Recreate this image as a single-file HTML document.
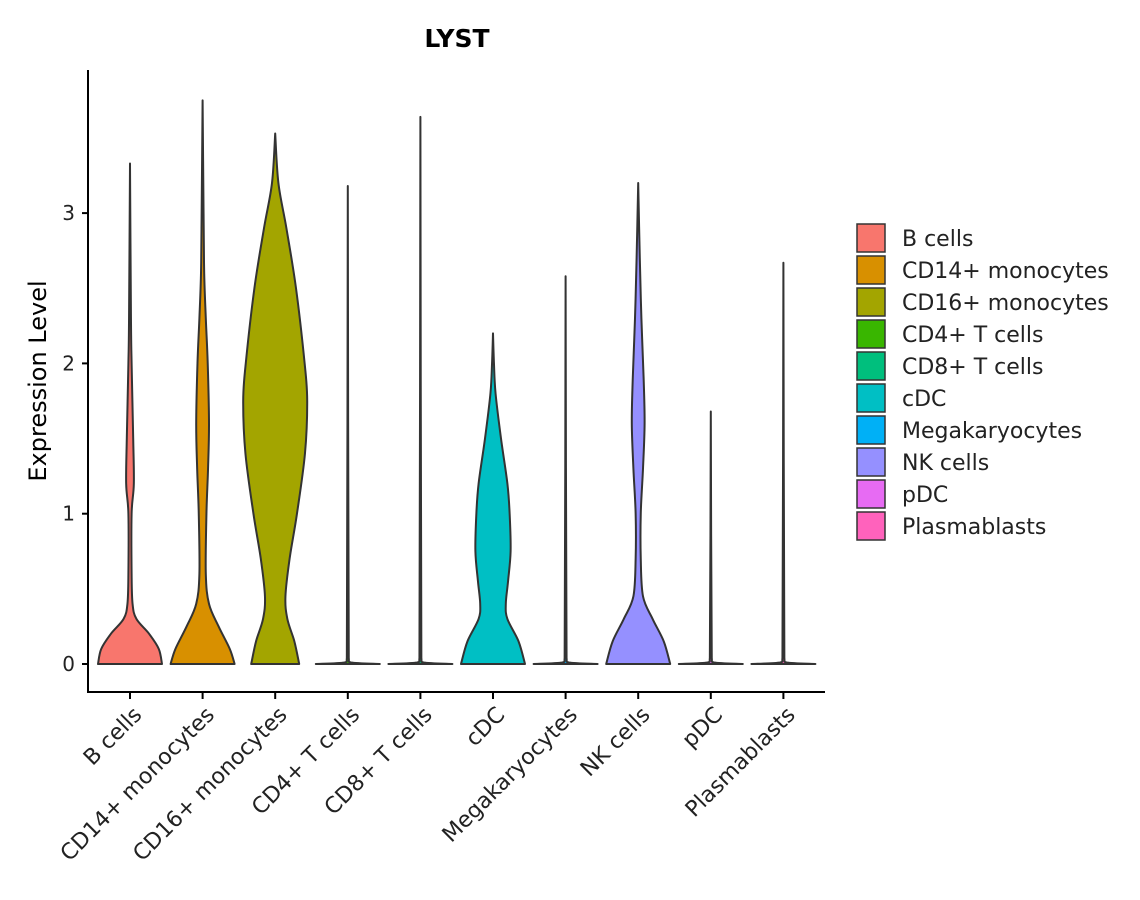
<!DOCTYPE html>
<html><head><meta charset="utf-8"><style>
body{margin:0;background:#fff;}
svg{display:block;font-family:"DejaVu Sans","Liberation Sans",sans-serif;}
</style></head><body>
<svg id="chart" width="1140" height="900">
<text x="457" y="47" text-anchor="middle" font-size="25" font-weight="bold">LYST</text>
<text transform="translate(46,381) rotate(-90)" text-anchor="middle" font-size="24">Expression Level</text>
<g id="plot"></g>
<g id="legend"></g>
</svg>
<script>
const categories=["B cells","CD14+ monocytes","CD16+ monocytes","CD4+ T cells","CD8+ T cells","cDC","Megakaryocytes","NK cells","pDC","Plasmablasts"];
const colors=["#F8766D","#D89000","#A3A500","#39B600","#00BF7D","#00BFC4","#00B0F6","#9590FF","#E76BF3","#FF62BC"];
const yTicks=[0,1,2,3];
// density profiles: [expression, relative half-width]
const profB=[[0,1],[0.1,0.9],[0.2,0.6],[0.3,0.2],[0.4,0.08],[0.6,0.05],[1.0,0.05],[1.2,0.12],[1.5,0.1],[2.0,0.05],[2.3,0.03],[3.33,0]];
const profCD14=[[0,1],[0.1,0.85],[0.25,0.5],[0.4,0.2],[0.6,0.1],[1.0,0.12],[1.3,0.17],[1.6,0.2],[2.0,0.16],[2.3,0.1],[2.6,0.05],[3.0,0.03],[3.75,0]];
const profCD16=[[0,0.75],[0.15,0.6],[0.3,0.38],[0.45,0.32],[0.7,0.45],[1.0,0.68],[1.4,0.93],[1.75,1.0],[2.0,0.92],[2.5,0.65],[2.9,0.35],[3.2,0.1],[3.53,0]];
const profCD4=[[0,1],[0.01,0.1],[0.04,0.03],[3.18,0]];
const profCD8=[[0,1],[0.01,0.1],[0.04,0.03],[3.64,0]];
const profcDC=[[0,1],[0.15,0.8],[0.3,0.45],[0.4,0.4],[0.55,0.47],[0.75,0.55],[1.0,0.52],[1.2,0.45],[1.5,0.25],[1.8,0.08],[2.0,0.03],[2.2,0]];
const profMega=[[0,1],[0.01,0.1],[0.04,0.03],[2.58,0]];
const profNK=[[0,1],[0.15,0.8],[0.3,0.45],[0.45,0.15],[0.7,0.08],[1.0,0.08],[1.3,0.15],[1.6,0.2],[1.9,0.17],[2.3,0.1],[2.7,0.05],[3.2,0]];
const profpDC=[[0,1],[0.01,0.1],[0.04,0.03],[1.68,0]];
const profPlasma=[[0,1],[0.01,0.1],[0.04,0.03],[2.67,0]];
const profiles=[profB,profCD14,profCD16,profCD4,profCD8,profcDC,profMega,profNK,profpDC,profPlasma];

const NS="http://www.w3.org/2000/svg";
const x0=88,x1=825,yBase=664,pxPerUnit=150.3,halfMax=32;
const xS=i=>130+i*72.6;
const yS=v=>yBase-v*pxPerUnit;
function mk(t,a,p){const e=document.createElementNS(NS,t);for(const k in a)e.setAttribute(k,a[k]);(p||plot).appendChild(e);return e;}
const plot=document.getElementById('plot');
const legend=document.getElementById('legend');
const clamp=(v,a,b)=>Math.max(Math.min(a,b),Math.min(Math.max(a,b),v));
function spline(pts,cx,s){let d=`M${pts[0][0]},${pts[0][1]}`;for(let i=0;i<pts.length-1;i++){const p0=pts[i-1]||pts[i],p1=pts[i],p2=pts[i+1],p3=pts[i+2]||p2;
 let c1=[p1[0]+(p2[0]-p0[0])/6,p1[1]+(p2[1]-p0[1])/6],c2=[p2[0]-(p3[0]-p1[0])/6,p2[1]-(p3[1]-p1[1])/6];
 c1[1]=clamp(c1[1],p1[1],p2[1]);c2[1]=clamp(c2[1],p1[1],p2[1]);
 if(s>0){c1[0]=Math.max(cx,c1[0]);c2[0]=Math.max(cx,c2[0]);}else{c1[0]=Math.min(cx,c1[0]);c2[0]=Math.min(cx,c2[0]);}
 d+=` C${c1[0]},${c1[1]} ${c2[0]},${c2[1]} ${p2[0]},${p2[1]}`;}return d;}
let ax=mk('line',{x1:x0,y1:70,x2:x0,y2:692,stroke:'#000','stroke-width':2});

ax=mk('line',{x1:x0-1,y1:692,x2:x1,y2:692,stroke:'#000','stroke-width':2});

yTicks.forEach(t=>{
  const tk=mk('line',{x1:x0-6,y1:yS(t),x2:x0,y2:yS(t),stroke:'#000','stroke-width':2});
  
  const tl=mk('text',{x:x0-13,y:yS(t)+7,'text-anchor':'end','font-size':20,fill:'#222'});tl.textContent=t;
  
});
categories.forEach((c,i)=>{
  const cx=xS(i),pr=profiles[i];
  const right=pr.map(p=>[cx+p[1]*halfMax,yS(p[0])]);
  const left=pr.slice().reverse().map(p=>[cx-p[1]*halfMax,yS(p[0])]);
  let d=spline(right,cx,1);d+=' '+spline(left,cx,-1).replace('M','L')+' Z';
  const v=mk('path',{d:d,fill:colors[i],stroke:'#333','stroke-width':2,'stroke-linejoin':'round'});
  
  
  const tk=mk('line',{x1:cx,y1:692,x2:cx,y2:699,stroke:'#000','stroke-width':2});
  
  const tl=mk('text',{transform:`translate(${cx+13},${716}) rotate(-45)`,'text-anchor':'end','font-size':22,fill:'#222'});tl.textContent=c;
  
  const ly=224+i*32;
  const lb=mk('rect',{x:857,y:ly,width:28,height:28,fill:colors[i],stroke:'#333','stroke-width':1.5},legend);
  
  const lt=mk('text',{x:902,y:ly+22,'font-size':22,fill:'#222'},legend);lt.textContent=c;
  
});
</script>
</body></html>
